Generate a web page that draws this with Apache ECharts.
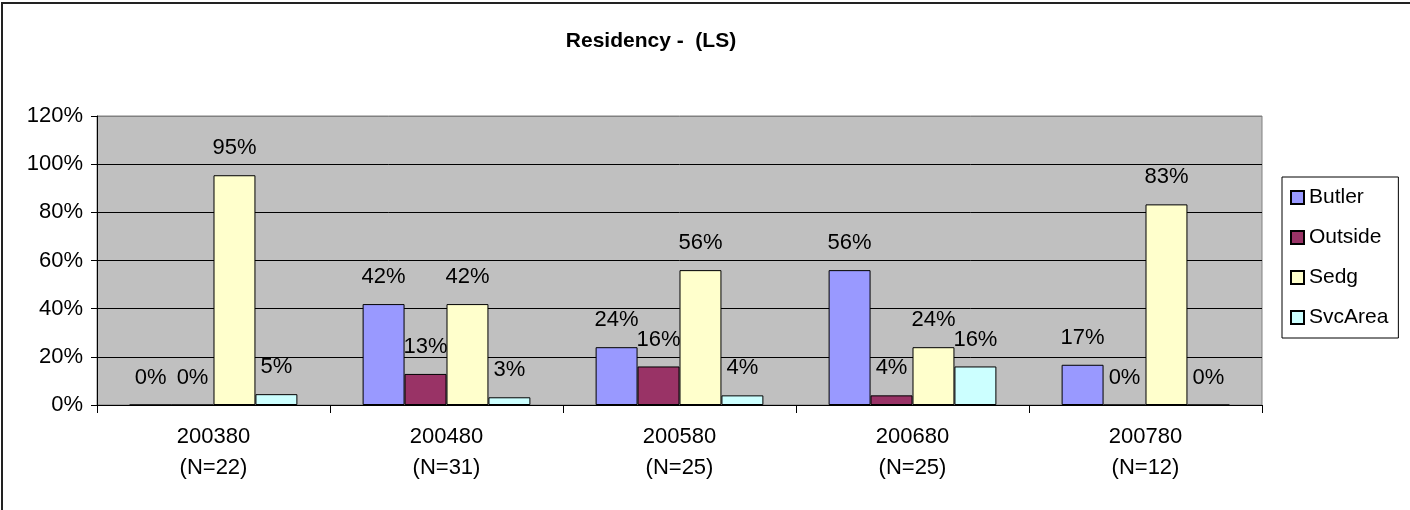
<!DOCTYPE html>
<html>
<head>
<meta charset="utf-8">
<script src="https://cdn.jsdelivr.net/npm/echarts@6/dist/echarts.min.js"></script>
<style>
  html, body { margin: 0; padding: 0; background: #fff; }
  #chart { position: absolute; left: 0; top: 0; width: 1410px; height: 510px; }
  #frame { position: absolute; left: 1px; top: 2px; width: 1420px; height: 520px;
           border-left: 2px solid #222; border-top: 2px solid #222; pointer-events: none; }
</style>
</head>
<body>
<div id="chart"></div>
<div id="frame"></div>
<script>
const titleText = 'Residency -  (LS)';
const categories = ['200380\n(N=22)', '200480\n(N=31)', '200580\n(N=25)', '200680\n(N=25)', '200780\n(N=12)'];
const seriesNames = ['Butler', 'Outside', 'Sedg', 'SvcArea'];
const butler  = [0, 41.9, 24, 56, 16.7];
const outside = [0, 12.9, 16, 4, 0];
const sedg    = [95.4, 41.9, 56, 24, 83.3];
const svcArea = [4.5, 3.2, 4, 16, 0];
const yTicks = [0, 20, 40, 60, 80, 100, 120];
const colors = ['#9999FF', '#993366', '#FFFFCC', '#CCFFFF'];

const dataSets = [butler, outside, sedg, svcArea];
const FONT = '"Liberation Sans", Arial, sans-serif';

const chart = echarts.init(document.getElementById('chart'), null, { renderer: 'canvas' });
chart.setOption({
  animation: false,
  backgroundColor: '#ffffff',
  title: {
    text: titleText,
    left: 646, textAlign: 'center',
    top: 26,
    textStyle: { fontFamily: FONT, fontSize: 21, fontWeight: 'bold', color: '#000' }
  },
  legend: {
    orient: 'vertical',
    left: 1282, top: 177,
    padding: [10, 10, 10, 8],
    itemGap: 19,
    itemWidth: 13, itemHeight: 13,
    icon: 'rect',
    borderColor: '#000', borderWidth: 1,
    backgroundColor: '#fff',
    data: seriesNames,
    textStyle: { fontFamily: FONT, fontSize: 21, color: '#000', lineHeight: 21, padding: [0, 0, 0, 0] }
  },
  grid: {
    left: 97, top: 116, width: 1165, height: 289,
    show: true, backgroundColor: '#C0C0C0', borderColor: '#808080', borderWidth: 1
  },
  xAxis: {
    type: 'category',
    data: categories,
    axisLine: { lineStyle: { color: '#000', width: 1 } },
    axisTick: { show: true, inside: false, length: 8, lineStyle: { color: '#000' } },
    axisLabel: { fontFamily: FONT, fontSize: 22, color: '#000', lineHeight: 31, margin: 16 },
    splitLine: { show: false }
  },
  yAxis: {
    type: 'value',
    min: 0, max: 120, interval: 20,
    axisLine: { show: true, lineStyle: { color: '#000', width: 1 } },
    axisTick: { show: true, length: 6, lineStyle: { color: '#000' } },
    axisLabel: { fontFamily: FONT, fontSize: 22, color: '#000', margin: 14,
                 formatter: v => (yTicks.includes(v) ? v + '%' : '') },
    splitLine: { show: true, lineStyle: { color: ['#000','#000','#000','#000','#000','#000','#808080'], width: 1 } }
  },
  series: seriesNames.map((name, i) => ({
    name: name,
    type: 'bar',
    data: dataSets[i],
    barGap: '0%',
    barCategoryGap: '28%',
    itemStyle: { color: colors[i], borderColor: '#000', borderWidth: 1 },
    label: {
      show: true, position: 'top', distance: 16,
      fontFamily: FONT, fontSize: 22, color: '#000', lineHeight: 22,
      formatter: p => Math.round(p.value) + '%'
    }
  }))
});
</script>
</body>
</html>
